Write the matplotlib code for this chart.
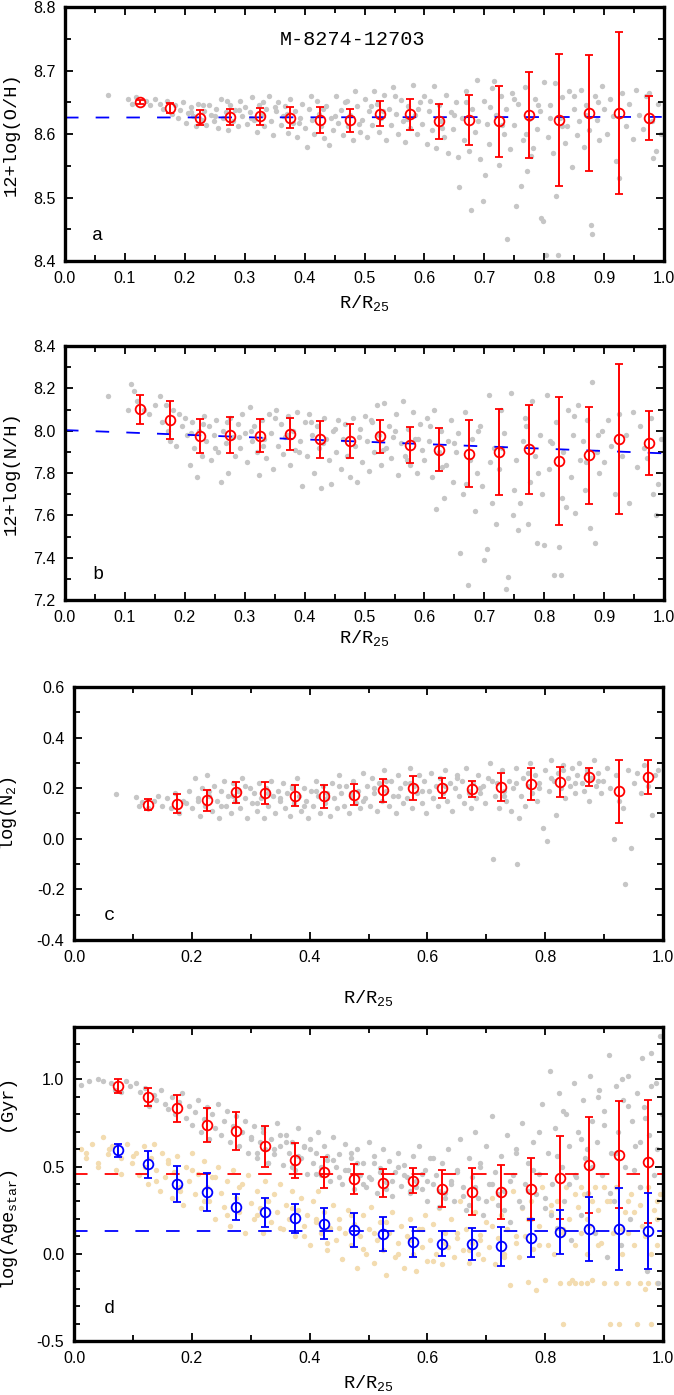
import numpy as np
import matplotlib
matplotlib.use('Agg')
import matplotlib.pyplot as plt
from matplotlib.ticker import MultipleLocator, FormatStrFormatter

plt.rcParams['font.family'] = ['Liberation Sans', 'DejaVu Sans']
plt.rcParams['axes.unicode_minus'] = False
plt.rcParams['mathtext.fontset'] = 'custom'
plt.rcParams['mathtext.rm'] = 'Liberation Mono'
plt.rcParams['mathtext.default'] = 'rm'

# bin centres of the radial profiles
rbin = [0.125, 0.175, 0.225, 0.275, 0.325, 0.375, 0.425, 0.475, 0.525,
        0.575, 0.625, 0.675, 0.725, 0.775, 0.825, 0.875, 0.925, 0.975]
rbin_d = [0.075] + rbin

# panel a : 12+log(O/H)
oh_mean = [8.651, 8.641, 8.626, 8.627, 8.628, 8.626, 8.622, 8.622, 8.632,
           8.631, 8.620, 8.622, 8.620, 8.630, 8.622, 8.633, 8.633, 8.625]
oh_err = [0.003, 0.008, 0.012, 0.012, 0.013, 0.017, 0.020, 0.018, 0.020,
          0.024, 0.027, 0.039, 0.056, 0.068, 0.104, 0.091, 0.128, 0.035]
oh_fit = [8.626, 8.627]

# panel b : 12+log(N/H)
nh_mean = [8.102, 8.052, 7.976, 7.979, 7.976, 7.985, 7.960, 7.952, 7.973,
           7.933, 7.911, 7.892, 7.900, 7.912, 7.857, 7.884, 7.960, 7.941]
nh_err = [0.068, 0.089, 0.080, 0.084, 0.078, 0.077, 0.087, 0.080, 0.078,
          0.085, 0.103, 0.160, 0.203, 0.209, 0.302, 0.228, 0.355, 0.150]
nh_fit = [8.003, 7.893]

# panel c : log(N2)
n2_mean = [0.135, 0.138, 0.152, 0.183, 0.180, 0.170, 0.167, 0.174, 0.192,
           0.200, 0.199, 0.197, 0.205, 0.216, 0.224, 0.244, 0.188, 0.245]
n2_err = [0.022, 0.037, 0.041, 0.040, 0.044, 0.042, 0.044, 0.042, 0.046,
          0.046, 0.040, 0.033, 0.056, 0.062, 0.060, 0.037, 0.124, 0.067]

# panel d : stellar ages
age_red = [0.962, 0.900, 0.833, 0.738, 0.704, 0.615, 0.537, 0.467, 0.429, 0.408,
           0.419, 0.373, 0.356, 0.354, 0.369, 0.437, 0.510, 0.569, 0.529]
age_red_err = [0.040, 0.053, 0.075, 0.098, 0.111, 0.117, 0.100, 0.088, 0.087, 0.080,
               0.071, 0.107, 0.134, 0.157, 0.178, 0.238, 0.275, 0.308, 0.351]
age_blue = [0.594, 0.512, 0.400, 0.354, 0.267, 0.238, 0.204, 0.171, 0.137, 0.113,
            0.067, 0.058, 0.054, 0.042, 0.090, 0.125, 0.142, 0.142, 0.129]
age_blue_err = [0.037, 0.075, 0.103, 0.109, 0.073, 0.082, 0.082, 0.089, 0.096, 0.096,
                0.088, 0.071, 0.092, 0.111, 0.110, 0.127, 0.185, 0.234, 0.219]
age_red_level = 0.460
age_blue_level = 0.131

# spaxel clouds
oh_pts_x = [0.072, 0.105, 0.112, 0.118, 0.135, 0.142, 0.150, 0.158, 0.163, 0.170,
            0.178, 0.183, 0.188, 0.192, 0.197, 0.202, 0.206, 0.210, 0.214, 0.218,
            0.222, 0.228, 0.232, 0.236, 0.240, 0.244, 0.248, 0.252, 0.256, 0.260,
            0.264, 0.268, 0.272, 0.276, 0.280, 0.284, 0.288, 0.292, 0.296, 0.300,
            0.304, 0.308, 0.312, 0.316, 0.320, 0.324, 0.328, 0.332, 0.336, 0.340,
            0.344, 0.348, 0.352, 0.356, 0.360, 0.364, 0.368, 0.372, 0.376, 0.380,
            0.384, 0.388, 0.392, 0.396, 0.400, 0.404, 0.408, 0.412, 0.416, 0.420,
            0.424, 0.428, 0.432, 0.436, 0.440, 0.444, 0.448, 0.452, 0.456, 0.460,
            0.464, 0.468, 0.472, 0.476, 0.480, 0.484, 0.488, 0.492, 0.496, 0.500,
            0.504, 0.508, 0.512, 0.516, 0.520, 0.524, 0.528, 0.532, 0.536, 0.540,
            0.544, 0.548, 0.552, 0.556, 0.560, 0.564, 0.568, 0.572, 0.576, 0.580,
            0.584, 0.588, 0.592, 0.596, 0.600, 0.604, 0.608, 0.612, 0.616, 0.620,
            0.624, 0.628, 0.632, 0.636, 0.640, 0.644, 0.648, 0.652, 0.656, 0.658,
            0.662, 0.666, 0.670, 0.674, 0.677, 0.680, 0.684, 0.688, 0.692, 0.697,
            0.700, 0.701, 0.704, 0.708, 0.712, 0.716, 0.720, 0.724, 0.728, 0.732,
            0.736, 0.738, 0.742, 0.746, 0.750, 0.753, 0.756, 0.761, 0.764, 0.768,
            0.771, 0.774, 0.778, 0.781, 0.784, 0.788, 0.792, 0.794, 0.797, 0.800,
            0.803, 0.806, 0.810, 0.814, 0.817, 0.820, 0.823, 0.826, 0.830, 0.834,
            0.838, 0.842, 0.846, 0.850, 0.854, 0.858, 0.862, 0.866, 0.870, 0.874,
            0.878, 0.880, 0.884, 0.888, 0.892, 0.896, 0.900, 0.905, 0.910, 0.915,
            0.919, 0.925, 0.930, 0.936, 0.942, 0.948, 0.953, 0.958, 0.964, 0.970,
            0.975, 0.980, 0.982, 0.986, 0.990, 0.994,
            0.21, 0.23, 0.25, 0.27, 0.29, 0.31, 0.33, 0.35, 0.37, 0.39,
            0.41, 0.43, 0.45, 0.47, 0.49, 0.51, 0.53, 0.55, 0.57, 0.59,
            0.61, 0.63, 0.65, 0.67, 0.69, 0.71, 0.73, 0.75, 0.77, 0.79,
            0.81, 0.83, 0.85, 0.87, 0.89]
oh_pts_y = [8.662, 8.656, 8.648, 8.658, 8.652, 8.646, 8.655, 8.648, 8.640, 8.652,
            8.632, 8.646, 8.625, 8.638, 8.650, 8.618, 8.633, 8.642, 8.628, 8.612,
            8.648, 8.622, 8.636, 8.615, 8.645, 8.630, 8.620, 8.640, 8.610, 8.655,
            8.626, 8.634, 8.606, 8.646, 8.620, 8.638, 8.612, 8.652, 8.628, 8.642,
            8.616, 8.634, 8.658, 8.622, 8.604, 8.646, 8.630, 8.612, 8.640, 8.660,
            8.620, 8.598, 8.636, 8.650, 8.614, 8.628, 8.644, 8.602, 8.655, 8.618,
            8.636, 8.596, 8.626, 8.648, 8.610, 8.580, 8.640, 8.622, 8.600, 8.652,
            8.632, 8.612, 8.594, 8.644, 8.582, 8.626, 8.606, 8.660, 8.618, 8.638,
            8.598, 8.650, 8.612, 8.630, 8.590, 8.668, 8.644, 8.604, 8.622, 8.656,
            8.596, 8.636, 8.614, 8.668, 8.648, 8.604, 8.626, 8.662, 8.590, 8.640,
            8.614, 8.674, 8.632, 8.600, 8.654, 8.620, 8.588, 8.644, 8.610, 8.678,
            8.630, 8.600, 8.650, 8.616, 8.660, 8.584, 8.636, 8.606, 8.676, 8.578,
            8.646, 8.620, 8.596, 8.662, 8.570, 8.634, 8.608, 8.650, 8.564, 8.517,
            8.626, 8.590, 8.668, 8.574, 8.480, 8.640, 8.604, 8.685, 8.560, 8.494,
            8.652, 8.536, 8.616, 8.584, 8.672, 8.684, 8.630, 8.552, 8.660, 8.600,
            8.640, 8.434, 8.576, 8.664, 8.614, 8.486, 8.648, 8.518, 8.590, 8.674,
            8.542, 8.624, 8.566, 8.578, 8.656, 8.608, 8.636, 8.468, 8.463, 8.682,
            8.410, 8.596, 8.646, 8.570, 8.680, 8.502, 8.410, 8.626, 8.658, 8.586,
            8.612, 8.668, 8.548, 8.640, 8.598, 8.620, 8.670, 8.580, 8.646, 8.606,
            8.457, 8.442, 8.660, 8.622, 8.590, 8.675, 8.640, 8.600, 8.656, 8.628,
            8.557, 8.531, 8.664, 8.612, 8.648, 8.592, 8.670, 8.630, 8.608, 8.660,
            8.665, 8.620, 8.563, 8.573, 8.648, 8.600,
            8.635, 8.645, 8.628, 8.652, 8.638, 8.626, 8.650, 8.642, 8.632, 8.618,
            8.660, 8.640, 8.628, 8.652, 8.616, 8.644, 8.636, 8.660, 8.624, 8.640,
            8.652, 8.610, 8.630, 8.650, 8.620, 8.642, 8.615, 8.655, 8.600, 8.645,
            8.625, 8.612, 8.660, 8.630, 8.650]

nh_pts_x = [0.072, 0.105, 0.110, 0.115, 0.120, 0.132, 0.140, 0.150, 0.158, 0.162,
            0.168, 0.172, 0.176, 0.180, 0.185, 0.190, 0.195, 0.200, 0.204, 0.208,
            0.212, 0.216, 0.220, 0.224, 0.228, 0.232, 0.236, 0.240, 0.244, 0.248,
            0.252, 0.256, 0.260, 0.264, 0.268, 0.272, 0.276, 0.280, 0.284, 0.288,
            0.292, 0.296, 0.300, 0.304, 0.308, 0.312, 0.316, 0.320, 0.324, 0.328,
            0.332, 0.336, 0.340, 0.344, 0.348, 0.352, 0.356, 0.360, 0.364, 0.368,
            0.372, 0.376, 0.380, 0.384, 0.388, 0.392, 0.396, 0.400, 0.404, 0.408,
            0.412, 0.416, 0.420, 0.424, 0.428, 0.432, 0.436, 0.440, 0.444, 0.448,
            0.452, 0.456, 0.460, 0.464, 0.468, 0.472, 0.476, 0.480, 0.484, 0.488,
            0.492, 0.496, 0.500, 0.504, 0.508, 0.512, 0.516, 0.520, 0.524, 0.528,
            0.532, 0.536, 0.540, 0.544, 0.548, 0.552, 0.556, 0.560, 0.564, 0.568,
            0.572, 0.576, 0.580, 0.584, 0.588, 0.592, 0.596, 0.600, 0.604, 0.608,
            0.612, 0.616, 0.620, 0.624, 0.628, 0.632, 0.636, 0.640, 0.644, 0.648,
            0.652, 0.656, 0.660, 0.664, 0.668, 0.672, 0.676, 0.680, 0.684, 0.688,
            0.692, 0.696, 0.700, 0.704, 0.708, 0.712, 0.716, 0.720, 0.724, 0.728,
            0.732, 0.736, 0.740, 0.744, 0.748, 0.752, 0.756, 0.760, 0.764, 0.768,
            0.772, 0.776, 0.780, 0.784, 0.788, 0.792, 0.796, 0.800, 0.804, 0.808,
            0.812, 0.816, 0.820, 0.824, 0.828, 0.832, 0.836, 0.840, 0.844, 0.848,
            0.852, 0.856, 0.860, 0.864, 0.868, 0.872, 0.876, 0.880, 0.884, 0.888,
            0.892, 0.896, 0.900, 0.906, 0.912, 0.918, 0.924, 0.930, 0.936, 0.942,
            0.948, 0.954, 0.960, 0.966, 0.972, 0.978, 0.982, 0.986, 0.990, 0.994,
            0.21, 0.23, 0.25, 0.27, 0.29, 0.31, 0.33, 0.35, 0.37, 0.39,
            0.41, 0.43, 0.45, 0.47, 0.49, 0.51, 0.53, 0.55, 0.57, 0.59,
            0.61, 0.63, 0.65, 0.67, 0.69, 0.71, 0.73, 0.75, 0.77, 0.79,
            0.81, 0.83, 0.85, 0.87, 0.89]
nh_pts_y = [8.165, 8.10, 8.22, 8.19, 8.14, 8.10, 8.08, 8.12, 8.165, 8.04,
            8.12, 8.00, 7.95, 8.10, 7.93, 8.08, 8.02, 8.06, 7.98, 7.84,
            8.04, 7.92, 7.78, 8.00, 7.88, 8.07, 7.95, 8.02, 7.86, 7.98,
            8.05, 7.90, 7.76, 8.00, 7.94, 7.80, 8.06, 7.97, 7.88, 8.03,
            7.92, 8.08, 7.99, 7.85, 8.11, 7.95, 8.02, 7.90, 7.79, 8.05,
            7.96, 7.87, 8.08, 7.99, 7.82, 8.10, 7.93, 8.03, 7.89, 7.97,
            8.07, 7.84, 8.00, 7.91, 8.09, 7.95, 7.74, 8.04, 7.88, 8.08,
            7.98, 7.80, 8.02, 7.92, 7.73, 8.06, 7.96, 7.86, 7.75, 8.00,
            7.90, 8.05, 7.82, 7.96, 8.03, 7.88, 7.78, 8.06, 7.93, 7.76,
            8.01, 7.85, 8.07, 7.95, 7.81, 8.04, 7.90, 8.12, 7.98, 7.84,
            8.13, 7.92, 8.02, 7.87, 7.97, 8.08, 7.79, 7.94, 8.14, 7.88,
            8.01, 7.84, 8.09, 7.96, 7.80, 8.03, 7.91, 7.86, 8.06, 7.95,
            7.78, 8.10, 7.63, 7.90, 8.00, 7.68, 7.84, 7.95, 8.05, 7.76,
            7.90, 7.99, 7.42, 7.70, 8.09, 7.27, 7.86, 7.96, 7.62, 7.80,
            8.02, 7.74, 7.39, 7.44, 8.17, 7.66, 7.92, 7.56, 7.82, 8.10,
            7.99, 7.25, 7.31, 8.18, 7.60, 7.86, 7.53, 7.66, 7.95, 8.06,
            7.56, 7.76, 8.14, 7.88, 7.47, 7.98, 7.70, 7.46, 8.17, 7.82,
            7.94, 7.32, 8.04, 7.45, 7.32, 7.90, 7.64, 8.10, 7.78, 7.98,
            7.61, 8.12, 7.86, 7.95, 7.72, 8.05, 7.54, 8.23, 7.47, 7.90,
            7.80, 8.00, 7.85, 8.05, 7.93, 7.70, 8.08, 7.88, 7.98, 7.66,
            8.09, 7.83, 8.02, 7.92, 7.87, 8.06, 7.70, 7.60, 7.75, 7.96,
            7.99, 8.03, 7.92, 8.04, 7.97, 8.00, 7.93, 8.06, 7.98, 7.90,
            8.04, 7.94, 8.01, 7.88, 7.97, 8.05, 7.91, 8.00, 7.86, 7.96,
            8.02, 7.83, 7.94, 7.75, 8.00, 7.85, 7.92, 7.72, 8.02, 7.80,
            7.95, 7.68, 8.07, 7.85, 7.98]

n2_pts_x = [0.072, 0.105, 0.110, 0.115, 0.125, 0.135, 0.142, 0.150, 0.158, 0.165,
            0.172, 0.178, 0.185, 0.190, 0.196, 0.200, 0.205, 0.210, 0.214, 0.218,
            0.222, 0.226, 0.230, 0.234, 0.238, 0.242, 0.246, 0.250, 0.254, 0.258,
            0.262, 0.266, 0.270, 0.274, 0.278, 0.282, 0.286, 0.290, 0.294, 0.298,
            0.302, 0.306, 0.310, 0.314, 0.318, 0.322, 0.326, 0.330, 0.334, 0.338,
            0.342, 0.346, 0.350, 0.354, 0.358, 0.362, 0.366, 0.370, 0.374, 0.378,
            0.382, 0.386, 0.390, 0.394, 0.398, 0.402, 0.406, 0.410, 0.414, 0.418,
            0.422, 0.426, 0.430, 0.434, 0.438, 0.442, 0.446, 0.450, 0.454, 0.458,
            0.462, 0.466, 0.470, 0.474, 0.478, 0.482, 0.486, 0.490, 0.494, 0.498,
            0.502, 0.506, 0.510, 0.514, 0.518, 0.522, 0.526, 0.530, 0.534, 0.538,
            0.542, 0.546, 0.550, 0.554, 0.558, 0.562, 0.566, 0.570, 0.574, 0.578,
            0.582, 0.586, 0.590, 0.594, 0.598, 0.602, 0.606, 0.610, 0.614, 0.618,
            0.622, 0.626, 0.630, 0.634, 0.638, 0.642, 0.646, 0.650, 0.654, 0.658,
            0.662, 0.666, 0.670, 0.674, 0.678, 0.682, 0.686, 0.690, 0.694, 0.698,
            0.702, 0.706, 0.712, 0.714, 0.718, 0.722, 0.726, 0.730, 0.734, 0.738,
            0.742, 0.746, 0.750, 0.752, 0.755, 0.758, 0.762, 0.766, 0.770, 0.774,
            0.778, 0.782, 0.786, 0.790, 0.796, 0.800, 0.803, 0.806, 0.810, 0.814,
            0.818, 0.822, 0.826, 0.830, 0.834, 0.838, 0.842, 0.846, 0.850, 0.854,
            0.858, 0.862, 0.866, 0.870, 0.874, 0.878, 0.882, 0.886, 0.890, 0.894,
            0.898, 0.904, 0.910, 0.916, 0.920, 0.926, 0.932, 0.936, 0.940, 0.945,
            0.950, 0.956, 0.962, 0.968, 0.974, 0.982, 0.986, 0.992,
            0.21, 0.23, 0.25, 0.27, 0.29, 0.31, 0.33, 0.35, 0.37, 0.39,
            0.41, 0.43, 0.45, 0.47, 0.49, 0.51, 0.53, 0.55, 0.57, 0.59,
            0.61, 0.63, 0.65, 0.67, 0.69, 0.71, 0.73, 0.75, 0.77, 0.79,
            0.81, 0.83, 0.85, 0.87, 0.89]
n2_pts_y = [0.175, 0.165, 0.13, 0.145, 0.12, 0.15, 0.17, 0.13, 0.16, 0.12,
            0.18, 0.10, 0.15, 0.14, 0.19, 0.12, 0.24, 0.16, 0.09, 0.20,
            0.13, 0.25, 0.17, 0.11, 0.21, 0.15, 0.08, 0.19, 0.23, 0.13,
            0.17, 0.10, 0.22, 0.15, 0.19, 0.12, 0.24, 0.16, 0.08, 0.20,
            0.14, 0.18, 0.11, 0.22, 0.16, 0.08, 0.20, 0.13, 0.23, 0.17,
            0.10, 0.19, 0.15, 0.22, 0.12, 0.18, 0.09, 0.21, 0.14, 0.24,
            0.17, 0.11, 0.20, 0.15, 0.08, 0.19, 0.13, 0.23, 0.17, 0.10,
            0.21, 0.14, 0.18, 0.09, 0.22, 0.16, 0.12, 0.25, 0.18, 0.13,
            0.21, 0.10, 0.17, 0.23, 0.14, 0.19, 0.12, 0.26, 0.16, 0.21,
            0.13, 0.24, 0.18, 0.11, 0.22, 0.15, 0.27, 0.19, 0.13, 0.23,
            0.17, 0.10, 0.25, 0.20, 0.14, 0.22, 0.16, 0.28, 0.12, 0.21,
            0.18, 0.25, 0.14, 0.23, 0.10, 0.19, 0.26, 0.16, 0.21, 0.13,
            0.24, 0.18, 0.27, 0.15, 0.22, 0.11, 0.20, 0.25, 0.17, 0.23,
            0.14, 0.28, 0.19, 0.12, 0.22, 0.16, 0.25, 0.18, 0.21, 0.14,
            0.24, 0.30, -0.082, 0.17, 0.22, 0.12, 0.27, 0.19, 0.15, 0.23,
            0.11, 0.20, 0.28, -0.099, 0.08, 0.17, 0.24, 0.13, 0.21, 0.30,
            0.18, 0.25, 0.15, 0.22, 0.044, 0.27, -0.009, 0.19, 0.31, 0.23,
            0.095, 0.26, 0.20, 0.29, 0.16, 0.24, 0.21, 0.28, 0.18, 0.25,
            0.30, 0.22, 0.19, 0.27, 0.15, 0.24, 0.31, 0.21, 0.26, 0.18,
            0.23, 0.28, 0.20, -0.003, 0.25, 0.15, 0.12, -0.179, 0.27, -0.036,
            0.22, 0.26, 0.18, 0.29, 0.21, 0.095, 0.25, 0.27,
            0.15, 0.19, 0.13, 0.17, 0.21, 0.14, 0.18, 0.16, 0.20, 0.13,
            0.19, 0.16, 0.21, 0.18, 0.15, 0.20, 0.23, 0.17, 0.22, 0.19,
            0.16, 0.21, 0.24, 0.18, 0.20, 0.23, 0.17, 0.22, 0.26, 0.20,
            0.24, 0.27, 0.22, 0.26, 0.23]

age_grey_x = [0.012, 0.025, 0.040, 0.050, 0.062, 0.070, 0.080, 0.088, 0.095, 0.105,
              0.112, 0.120, 0.128, 0.135, 0.140, 0.148, 0.155, 0.160, 0.166, 0.172,
              0.178, 0.184, 0.190, 0.196, 0.200, 0.206, 0.210, 0.215, 0.220, 0.225,
              0.230, 0.235, 0.240, 0.245, 0.250, 0.255, 0.260, 0.265, 0.270, 0.275,
              0.280, 0.285, 0.290, 0.295, 0.300, 0.305, 0.310, 0.315, 0.320, 0.325,
              0.330, 0.335, 0.340, 0.345, 0.350, 0.355, 0.360, 0.365, 0.370, 0.375,
              0.380, 0.385, 0.390, 0.395, 0.400, 0.405, 0.410, 0.415, 0.420, 0.425,
              0.430, 0.435, 0.440, 0.445, 0.450, 0.455, 0.460, 0.465, 0.470, 0.475,
              0.480, 0.485, 0.490, 0.495, 0.500, 0.505, 0.510, 0.515, 0.520, 0.525,
              0.530, 0.535, 0.540, 0.545, 0.550, 0.555, 0.560, 0.565, 0.570, 0.575,
              0.580, 0.585, 0.590, 0.595, 0.600, 0.605, 0.610, 0.615, 0.620, 0.625,
              0.630, 0.635, 0.640, 0.645, 0.650, 0.655, 0.660, 0.665, 0.670, 0.675,
              0.680, 0.685, 0.690, 0.695, 0.700, 0.705, 0.710, 0.715, 0.720, 0.725,
              0.730, 0.735, 0.740, 0.745, 0.750, 0.755, 0.760, 0.765, 0.770, 0.775,
              0.780, 0.785, 0.790, 0.795, 0.800, 0.805, 0.808, 0.812, 0.816, 0.820,
              0.824, 0.828, 0.832, 0.836, 0.840, 0.844, 0.848, 0.852, 0.856, 0.860,
              0.864, 0.868, 0.872, 0.876, 0.880, 0.884, 0.888, 0.892, 0.896, 0.900,
              0.904, 0.908, 0.912, 0.916, 0.920, 0.924, 0.928, 0.932, 0.936, 0.940,
              0.944, 0.948, 0.952, 0.956, 0.960, 0.964, 0.968, 0.972, 0.976, 0.980,
              0.984, 0.988, 0.992, 0.995, 0.998,
              0.30, 0.32, 0.34, 0.36, 0.38, 0.40, 0.42, 0.44, 0.46, 0.48,
              0.50, 0.52, 0.54, 0.56, 0.58, 0.60, 0.62, 0.64, 0.66, 0.68,
              0.70, 0.72, 0.74, 0.76, 0.78, 0.80, 0.82, 0.84, 0.86, 0.88,
              0.90, 0.92, 0.94, 0.96, 0.98,
              0.31, 0.33, 0.35, 0.37, 0.39, 0.41, 0.43, 0.45, 0.47, 0.49,
              0.51, 0.53, 0.55, 0.57, 0.59, 0.61, 0.63, 0.65, 0.67, 0.69,
              0.71, 0.73, 0.75, 0.77, 0.79, 0.81, 0.83, 0.85, 0.87, 0.89,
              0.91, 0.93, 0.95, 0.97, 0.99]
age_grey_y = [0.97, 0.99, 1.00, 0.99, 0.98, 0.94, 0.93, 0.99, 0.96, 0.98,
              0.93, 0.95, 0.85, 0.91, 0.88, 0.94, 0.86, 0.83, 0.90, 0.80,
              0.87, 0.92, 0.78, 0.85, 0.74, 0.81, 0.88, 0.70, 0.77, 0.84,
              0.66, 0.80, 0.72, 0.86, 0.68, 0.76, 0.82, 0.64, 0.73, 0.79,
              0.62, 0.70, 0.76, 0.58, 0.67, 0.73, 0.55, 0.64, 0.70, 0.60,
              0.52, 0.66, 0.57, 0.75, 0.62, 0.51, 0.68, 0.58, 0.64, 0.48,
              0.72, 0.55, 0.61, 0.46, 0.66, 0.52, 0.58, 0.70, 0.45, 0.62,
              0.54, 0.42, 0.67, 0.50, 0.57, 0.40, 0.63, 0.48, 0.55, 0.37,
              0.60, 0.45, 0.52, 0.38, 0.64, 0.43, 0.56, 0.35, 0.49, 0.60,
              0.41, 0.53, 0.33, 0.47, 0.58, 0.39, 0.51, 0.44, 0.35, 0.56,
              0.42, 0.62, 0.37, 0.48, 0.30, 0.55, 0.40, 0.45, 0.27, 0.52,
              0.35, 0.60, 0.42, 0.30, 0.48, 0.66, 0.38, 0.25, 0.55, 0.44,
              0.70, 0.32, 0.50, 0.22, 0.62, 0.40, 0.79, 0.47, 0.28, 0.56,
              0.36, 0.68, 0.18, 0.45, 0.58, 0.30, 0.75, 0.40, 0.52, 0.20,
              0.64, 0.34, 0.46, 0.86, 0.26, 0.58, 1.05, 0.40, 0.72, 0.15,
              0.92, 0.50, 0.30, 0.80, 0.62, 0.08, 0.98, 0.44, 0.70, 0.22,
              0.88, 0.55, 0.35, 1.02, 0.76, 0.12, 0.64, 0.94, 0.45, 0.82,
              -0.02, 1.14, 0.58, 0.30, 0.96, 0.70, 0.05, 0.88, 0.50, 1.02,
              0.20, 0.76, 0.62, 0.92, 0.38, 1.12, 0.84, -0.10, 0.68, 1.15,
              0.45, 0.98, -0.17, 1.25, 0.80,
              0.66, 0.72, 0.60, 0.64, 0.56, 0.60, 0.50, 0.54, 0.48, 0.52,
              0.44, 0.47, 0.42, 0.45, 0.38, 0.42, 0.36, 0.40, 0.33, 0.38,
              0.30, 0.34, 0.42, 0.27, 0.48, 0.32, 0.56, 0.40, 0.66, 0.50,
              0.74, 0.58, 0.85, 0.64, 0.96,
              0.58, 0.52, 0.68, 0.50, 0.62, 0.46, 0.56, 0.44, 0.58, 0.40,
              0.52, 0.37, 0.50, 0.36, 0.46, 0.55, 0.32, 0.47, 0.28, 0.52,
              0.40, 0.25, 0.60, 0.36, 0.70, 0.22, 0.82, 0.45, 0.60, 0.90,
              0.35, 1.00, 0.48, 0.78, 0.60]

age_tan_x = [0.012, 0.020, 0.030, 0.040, 0.050, 0.058, 0.065, 0.072, 0.080, 0.090,
             0.098, 0.105, 0.110, 0.118, 0.125, 0.130, 0.135, 0.140, 0.146, 0.150,
             0.155, 0.160, 0.166, 0.170, 0.175, 0.180, 0.185, 0.190, 0.195, 0.200,
             0.205, 0.210, 0.215, 0.220, 0.225, 0.230, 0.235, 0.240, 0.245, 0.250,
             0.255, 0.260, 0.265, 0.270, 0.275, 0.280, 0.285, 0.290, 0.295, 0.300,
             0.305, 0.310, 0.315, 0.320, 0.325, 0.330, 0.335, 0.340, 0.345, 0.350,
             0.355, 0.360, 0.365, 0.370, 0.375, 0.380, 0.385, 0.390, 0.395, 0.400,
             0.405, 0.410, 0.415, 0.420, 0.425, 0.430, 0.435, 0.440, 0.445, 0.450,
             0.455, 0.460, 0.465, 0.470, 0.475, 0.480, 0.485, 0.490, 0.495, 0.500,
             0.505, 0.510, 0.515, 0.520, 0.525, 0.530, 0.535, 0.540, 0.545, 0.550,
             0.555, 0.560, 0.565, 0.570, 0.575, 0.580, 0.585, 0.590, 0.595, 0.600,
             0.605, 0.610, 0.615, 0.620, 0.625, 0.630, 0.635, 0.640, 0.645, 0.650,
             0.655, 0.660, 0.665, 0.670, 0.675, 0.680, 0.685, 0.690, 0.695, 0.700,
             0.705, 0.710, 0.715, 0.720, 0.725, 0.730, 0.735, 0.740, 0.745, 0.750,
             0.755, 0.760, 0.765, 0.770, 0.775, 0.780, 0.785, 0.790, 0.795, 0.800,
             0.805, 0.810, 0.815, 0.820, 0.825, 0.830, 0.835, 0.840, 0.845, 0.850,
             0.855, 0.860, 0.865, 0.870, 0.875, 0.880, 0.885, 0.890, 0.895, 0.900,
             0.905, 0.910, 0.915, 0.920, 0.925, 0.930, 0.935, 0.940, 0.945, 0.950,
             0.955, 0.960, 0.965, 0.970, 0.975, 0.980, 0.985, 0.990, 0.995, 0.830,
             0.980, 0.860, 0.960, 0.900, 0.880, 0.940, 0.990, 0.860, 0.940, 0.990,
             0.870, 0.920, 0.960, 0.975, 0.850, 0.840,
             0.31, 0.33, 0.35, 0.37, 0.39, 0.41, 0.43, 0.45, 0.47, 0.49,
             0.51, 0.53, 0.55, 0.57, 0.59, 0.61, 0.63, 0.65, 0.67, 0.69,
             0.71, 0.73, 0.75, 0.77, 0.79, 0.81, 0.83, 0.85, 0.87, 0.89,
             0.91, 0.93, 0.95, 0.97, 0.99,
             0.02, 0.04, 0.06, 0.08, 0.10, 0.12, 0.14, 0.16, 0.18, 0.20,
             0.22, 0.24, 0.26, 0.28]
age_tan_y = [0.60, 0.55, 0.63, 0.50, 0.67, 0.57, 0.62, 0.48, 0.55, 0.63,
             0.52, 0.58, 0.45, 0.62, 0.40, 0.55, 0.63, 0.48, 0.36, 0.58,
             0.44, 0.52, 0.32, 0.47, 0.56, 0.38, 0.28, 0.50, 0.42, 0.58,
             0.34, 0.46, 0.26, 0.53, 0.38, 0.30, 0.44, 0.20, 0.50, 0.35,
             0.27, 0.42, 0.16, 0.48, 0.32, 0.24, 0.40, 0.12, 0.45, 0.29,
             0.20, 0.36, 0.26, 0.12, 0.42, 0.30, 0.18, 0.34, 0.24, 0.40,
             0.14, 0.28, 0.20, 0.36, 0.10, 0.25, 0.32, 0.16, 0.22, 0.05,
             0.30, 0.18, 0.36, 0.12, 0.24, 0.02, 0.15, 0.28, 0.08, 0.20,
             -0.03, 0.12, 0.25, 0.05, 0.17, -0.08, 0.10, 0.22, 0.00, 0.14,
             0.27, -0.05, 0.08, 0.18, 0.02, -0.12, 0.12, 0.24, -0.02, 0.06,
             0.16, -0.08, 0.10, 0.20, 0.00, -0.10, 0.14, 0.04, 0.22, -0.04,
             0.08, 0.17, 0.00, 0.26, -0.06, 0.12, 0.04, 0.20, -0.02, 0.09,
             0.30, 0.02, 0.14, -0.05, 0.06, 0.24, 0.00, 0.11, -0.03, 0.18,
             0.04, 0.32, -0.06, 0.09, 0.22, 0.00, 0.14, -0.18, 0.36, 0.06,
             -0.02, 0.26, 0.10, -0.16, 0.30, 0.03, -0.21, 0.16, 0.38, -0.15,
             0.05, 0.24, 0.00, 0.30, -0.17, 0.12, 0.38, 0.20, -0.15, 0.05,
             0.27, -0.17, 0.34, 0.00, 0.16, -0.15, 0.38, 0.25, 0.06, -0.17,
             0.30, -0.40, 0.12, 0.38, -0.40, 0.00, 0.24, -0.17, 0.34, 0.05,
             -0.40, 0.28, 0.16, -0.20, 0.38, 0.00, 0.25, -0.17, 0.34, -0.40,
             -0.40, 0.38, 0.38, 0.38, 0.30, 0.30, 0.30, 0.12, 0.12, 0.05,
             -0.17, -0.17, -0.17, -0.17, -0.17, -0.17,
             0.22, 0.30, 0.15, 0.26, 0.10, 0.20, 0.06, 0.15, 0.22, 0.03,
             0.12, 0.18, 0.00, 0.08, 0.14, -0.04, 0.06, 0.12, 0.02, 0.08,
             0.16, -0.02, 0.10, 0.20, 0.05, 0.28, 0.14, 0.34, 0.20, 0.05,
             0.30, 0.14, 0.24, 0.10, 0.20,
             0.58, 0.52, 0.60, 0.46, 0.56, 0.50, 0.42, 0.54, 0.36, 0.48,
             0.30, 0.44, 0.22, 0.38]

RED = '#ff0000'
BLUE = '#0000ff'
GREY = '#c6c6c6'
TAN = '#f3dcb0'
MONO = 'Liberation Mono'
DOT = 15

fig = plt.figure(figsize=(6.74, 13.95), dpi=100)


def style_axes(ax, xmaj, xmin, ymaj, ymin, ylim):
    ax.set_xlim(0.0, 1.0)
    ax.set_ylim(*ylim)
    ax.xaxis.set_major_locator(MultipleLocator(xmaj))
    ax.xaxis.set_minor_locator(MultipleLocator(xmin))
    ax.yaxis.set_major_locator(MultipleLocator(ymaj))
    ax.yaxis.set_minor_locator(MultipleLocator(ymin))
    ax.xaxis.set_major_formatter(FormatStrFormatter('%.1f'))
    ax.yaxis.set_major_formatter(FormatStrFormatter('%.1f'))
    ax.tick_params(which='both', direction='in', top=True, right=True,
                   labelsize=11.5, width=1.3, pad=7)
    ax.tick_params(which='major', length=6)
    ax.tick_params(which='minor', length=4)
    for s in ax.spines.values():
        s.set_linewidth(2.4)


def profile(ax, x, y, e, color):
    ax.errorbar(x, y, yerr=e, fmt='o', mfc='none', mec=color, ms=7, mew=1.3,
                ecolor=color, elinewidth=1.4, capsize=3, capthick=1.4, zorder=4)


def labels(ax, ylab, xlab_y, ylab_x, letter, lx, ly):
    ax.set_xlabel('R/R$_{25}$', fontfamily=MONO, fontsize=13.5)
    ax.set_ylabel(ylab, fontfamily=MONO, fontsize=13.5)
    ax.xaxis.set_label_coords(0.5, xlab_y)
    ax.yaxis.set_label_coords(ylab_x, 0.5)
    ax.xaxis.label.set_va('center')
    ax.yaxis.label.set_va('center')
    ax.text(lx, ly, letter, transform=ax.transAxes, fontfamily=MONO,
            fontsize=13.5, ha='left', va='center')


dash = (7.5, 9.5)

# panel a
ax_a = fig.add_axes([0.0964, 0.8129, 0.889, 0.182])
ax_a.scatter(oh_pts_x, oh_pts_y, s=DOT, c=GREY, lw=0, zorder=1)
ax_a.plot([0.0, 1.0], oh_fit, color=BLUE, lw=1.3, dashes=dash, zorder=2)
profile(ax_a, rbin, oh_mean, oh_err, RED)
style_axes(ax_a, 0.1, 0.05, 0.1, 0.05, (8.4, 8.8))
labels(ax_a, '12+log(O/H)', -0.165, -0.089, 'a', 0.045, 0.10)
ax_a.text(0.48, 0.874, 'M-8274-12703', transform=ax_a.transAxes,
          fontfamily=MONO, fontsize=14.5, ha='center', va='center')

# panel b
ax_b = fig.add_axes([0.0964, 0.5699, 0.889, 0.182])
ax_b.scatter(nh_pts_x, nh_pts_y, s=DOT, c=GREY, lw=0, zorder=1)
ax_b.plot([0.0, 1.0], nh_fit, color=BLUE, lw=1.3, dashes=dash, zorder=2)
profile(ax_b, rbin, nh_mean, nh_err, RED)
style_axes(ax_b, 0.1, 0.05, 0.2, 0.1, (7.2, 8.4))
labels(ax_b, '12+log(N/H)', -0.15, -0.089, 'b', 0.045, 0.10)

# panel c
ax_c = fig.add_axes([0.1098, 0.3262, 0.874, 0.1814])
ax_c.scatter(n2_pts_x, n2_pts_y, s=DOT, c=GREY, lw=0, zorder=1)
profile(ax_c, rbin, n2_mean, n2_err, RED)
style_axes(ax_c, 0.2, 0.1, 0.2, 0.1, (-0.4, 0.6))
labels(ax_c, 'log(N$_{2}$)', -0.23, -0.111, 'c', 0.05, 0.095)

# panel d
ax_d = fig.add_axes([0.1098, 0.0387, 0.874, 0.2251])
ax_d.scatter(age_tan_x, age_tan_y, s=DOT, c=TAN, lw=0, zorder=1)
ax_d.scatter(age_grey_x, age_grey_y, s=DOT, c=GREY, lw=0, zorder=1)
ax_d.axhline(age_red_level, color=RED, lw=1.3, dashes=dash, zorder=2)
ax_d.axhline(age_blue_level, color=BLUE, lw=1.3, dashes=dash, zorder=2)
profile(ax_d, rbin_d, age_red, age_red_err, RED)
profile(ax_d, rbin_d, age_blue, age_blue_err, BLUE)
style_axes(ax_d, 0.2, 0.1, 0.5, 0.1, (-0.5, 1.3))
labels(ax_d, 'log(Age$_{star}$)   (Gyr)', -0.134, -0.11, 'd', 0.05, 0.105)

fig.savefig('out.png', dpi=100)
